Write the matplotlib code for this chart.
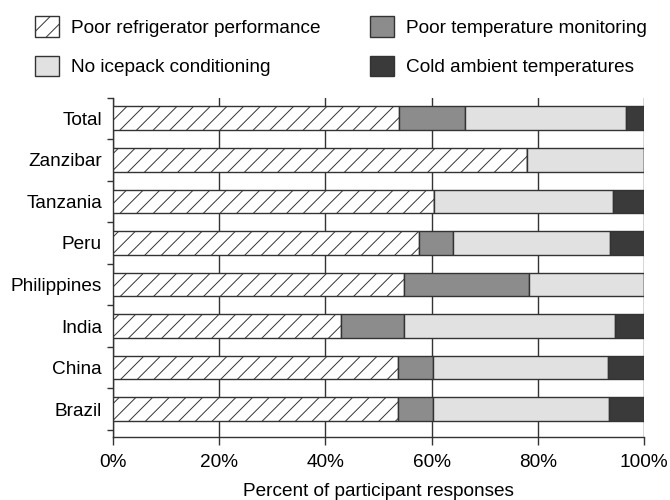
import matplotlib.pyplot as plt
from matplotlib.patches import Patch
from matplotlib.ticker import FixedLocator, PercentFormatter

plt.rcParams['font.family'] = ['Liberation Sans', 'DejaVu Sans']
plt.rcParams['hatch.linewidth'] = 0.7

#data (bottom to top)
countries = ['Brazil', 'China', 'India', 'Philippines', 'Peru', 'Tanzania', 'Zanzibar', 'Total']
refrigerator = [53.7, 53.6, 42.9, 54.8, 57.7, 60.4, 78.0, 53.8]
monitoring   = [6.5, 6.6, 11.9, 23.6, 6.3, 0.0, 0.0, 12.5]
icepack      = [33.3, 33.1, 39.7, 21.6, 29.6, 33.7, 22.0, 30.3]
cold         = [6.5, 6.7, 5.5, 0.0, 6.4, 5.9, 0.0, 3.4]

series_names = ['Poor refrigerator performance', 'Poor temperature monitoring',
                'No icepack conditioning', 'Cold ambient temperatures']

edge = '#333333'
fs = 13.7
fig = plt.figure(figsize=(6.7, 5), dpi=100)
ax = fig.add_axes([0.169, 0.126, 0.792, 0.679])

y = list(range(len(countries)))
h = 0.57
left = [0] * len(countries)
styles = [
    dict(color='white', hatch='//'),
    dict(color='#8c8c8c'),
    dict(color='#e1e1e1'),
    dict(color='#3a3a3a'),
]
for vals, st in zip([refrigerator, monitoring, icepack, cold], styles):
    ax.barh(y, vals, height=h, left=left, edgecolor=edge, linewidth=1.0, zorder=3, **st)
    left = [a + b for a, b in zip(left, vals)]

ax.set_xlim(0, 100)
ax.set_ylim(-0.67, 7.5)
ax.xaxis.set_major_formatter(PercentFormatter(decimals=0))
ax.set_xticks([0, 20, 40, 60, 80, 100])
ax.set_yticks(y)
ax.set_yticklabels(countries)
ax.yaxis.set_minor_locator(FixedLocator([i - 0.5 for i in range(len(countries) + 1)]))
ax.tick_params(axis='y', which='major', length=0, pad=8, labelsize=fs)
ax.tick_params(axis='y', which='minor', length=4, width=1, color=edge)
ax.tick_params(axis='x', length=5.5, width=1, color=edge, labelsize=fs, pad=6.5)
ax.grid(axis='x', color=edge, linewidth=1, zorder=0)
ax.set_axisbelow(True)
for s in ['top', 'right']:
    ax.spines[s].set_visible(False)
for s in ['left', 'bottom']:
    ax.spines[s].set_color(edge)
    ax.spines[s].set_linewidth(1)
ax.set_xlabel('Percent of participant responses', fontsize=fs, labelpad=9)

handles = [Patch(facecolor=st['color'], hatch=st.get('hatch'), edgecolor=edge, linewidth=1)
           for st in styles]
order = [0, 2, 1, 3]
fig.legend([handles[i] for i in order], [series_names[i] for i in order],
           ncol=2, loc='upper left', bbox_to_anchor=(0.052, 0.967), frameon=False,
           fontsize=fs, handlelength=1.26, handleheight=1.26, handletextpad=0.63,
           columnspacing=2.6, labelspacing=0.99, borderaxespad=0, borderpad=0)

fig.savefig('out.png', dpi=100)
